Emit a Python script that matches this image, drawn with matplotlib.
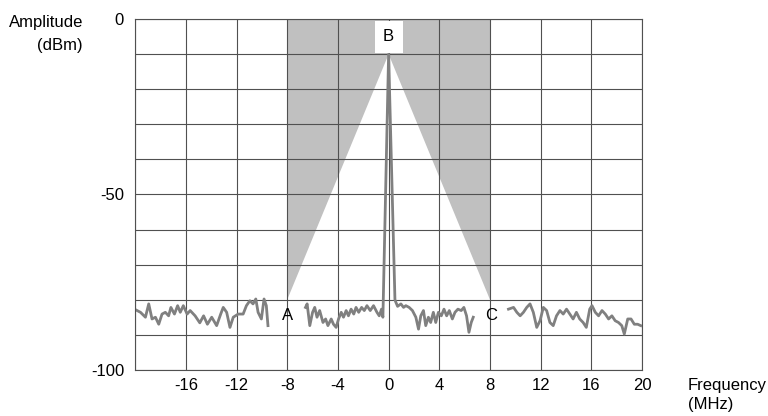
import matplotlib
matplotlib.use("Agg")
import matplotlib.pyplot as plt

plt.rcParams['font.family'] = ['Liberation Sans', 'DejaVu Sans']
plt.rcParams['axes.unicode_minus'] = False

# Left noise segment (MHz, dBm)
seg1_f = [-19.9, -19.58, -19.19, -18.93, -18.67, -18.4, -18.14, -17.88, -17.62, -17.36, -17.18,
          -16.9, -16.65, -16.44, -16.2, -15.9, -15.66, -15.27, -14.9, -14.6, -14.3, -13.96,
          -13.57, -13.25, -13.05, -12.78, -12.52, -12.26, -11.87, -11.48, -11.22, -10.95,
          -10.7, -10.48, -10.3, -10.04, -9.83, -9.65, -9.52]
seg1_a = [-83.0, -83.6, -85.0, -81.2, -85.5, -85.0, -87.0, -84.1, -83.6, -84.6, -82.2,
          -84.1, -81.7, -83.6, -81.7, -84.1, -83.1, -84.6, -86.6, -84.6, -87.0, -85.0,
          -87.4, -84.1, -82.2, -83.6, -87.9, -85.0, -84.1, -84.1, -81.7, -80.3,
          -81.2, -79.8, -83.6, -85.5, -79.8, -81.7, -87.4]

# Middle segment including the carrier peak
seg2_f = [-6.56, -6.43, -6.22, -6.0, -5.83, -5.65, -5.44, -5.18, -4.97, -4.79, -4.53, -4.35,
          -4.14, -3.95, -3.74, -3.56, -3.35, -3.17, -2.96, -2.75, -2.57, -2.36, -2.13, -1.92,
          -1.71, -1.45, -1.19, -0.92, -0.74, -0.56, -0.45, 0.0, 0.5, 0.58, 0.71, 0.97, 1.18,
          1.36, 1.62, 1.88, 2.15, 2.36, 2.54, 2.75, 2.93, 3.14, 3.32, 3.53, 3.72, 3.93, 4.16,
          4.37, 4.58, 4.79, 5.03, 5.24, 5.47, 5.73, 5.94, 6.15, 6.34, 6.52, 6.68]
seg2_a = [-82.2, -81.2, -87.4, -83.6, -82.2, -85.0, -83.1, -86.5, -85.5, -87.4, -85.5, -87.0,
          -87.9, -85.5, -83.6, -85.0, -83.1, -84.6, -82.7, -84.1, -82.2, -83.6, -82.2, -83.1,
          -81.7, -83.1, -81.7, -83.6, -84.6, -82.7, -85.0, -10.0, -80.0, -80.8, -81.9, -81.2, -82.2,
          -81.7, -82.2, -83.1, -85.0, -88.4, -84.6, -83.1, -87.4, -85.0, -86.5, -83.6, -86.5, -83.6, -84.6,
          -82.7, -84.6, -83.1, -85.5, -83.6, -82.7, -83.1, -82.2, -84.6, -89.3, -86.5, -85.0]

# Right noise segment
seg3_f = [9.46, 9.86, 10.12, 10.38, 10.64, 10.9, 11.16, 11.42, 11.69, 11.95, 12.21, 12.47,
          12.73, 12.99, 13.25, 13.52, 13.78, 14.04, 14.3, 14.56, 14.82, 15.08, 15.35, 15.6,
          15.87, 16.05, 16.31, 16.57, 16.84, 17.1, 17.36, 17.62, 17.88, 18.14, 18.4, 18.6,
          18.87, 19.13, 19.39, 19.65, 19.9]
seg3_a = [-82.7, -82.2, -83.6, -84.6, -83.6, -82.2, -81.2, -83.6, -87.9, -86.0, -82.2, -83.1,
          -86.5, -87.4, -84.6, -83.1, -84.1, -82.7, -84.1, -85.5, -83.6, -85.5, -86.5, -87.9,
          -82.7, -81.7, -83.6, -84.6, -83.1, -84.1, -85.5, -84.6, -86.0, -86.5, -87.4, -89.8,
          -85.5, -85.5, -87.0, -87.0, -87.4]

# Mask region: shaded band minus the white triangle
mask_f = [-8, 8, 8, 0, -8]
mask_a = [0, 0, -80, -10, -80]

xticks = list(range(-20, 21, 4))
xtick_labels = ['' if t == -20 else str(t) for t in xticks]
yticks = list(range(-100, 1, 10))
ytick_labels = [str(t) if t in (0, -50, -100) else '' for t in yticks]

fig = plt.figure(figsize=(7.68, 4.16), dpi=100)
ax = fig.add_axes([0.176, 0.111, 0.660, 0.843])

ax.fill(mask_f, mask_a, color='#c0c0c0', lw=0, zorder=1)

ax.set_xlim(-20, 20)
ax.set_ylim(-100, 0)
ax.set_xticks(xticks)
ax.set_xticklabels(xtick_labels)
ax.set_yticks(yticks)
ax.set_yticklabels(ytick_labels)
ax.tick_params(length=0, labelsize=12, colors='black')
ax.tick_params(axis='y', pad=8)
ax.tick_params(axis='x', pad=6)
ax.grid(True, color='#505050', lw=0.8, zorder=2)
ax.set_axisbelow(False)
for s in ax.spines.values():
    s.set_color('#505050')
    s.set_linewidth(0.8)
    s.set_zorder(6)

for f, a in ((seg1_f, seg1_a), (seg2_f, seg2_a), (seg3_f, seg3_a)):
    ax.plot(f, a, color='#808080', lw=2.0, zorder=3, solid_joinstyle='round')

ax.text(-8, -84.5, 'A', fontsize=12, ha='center', va='center', zorder=4)
ax.text(8.1, -84.5, 'C', fontsize=12, ha='center', va='center', zorder=4)
ax.text(0, -5.0, 'B', fontsize=12, ha='center', va='center', zorder=5,
        bbox=dict(boxstyle='square,pad=0.5', fc='white', ec='none'))

fig.text(83 / 768, 1 - 34 / 416, 'Amplitude\n(dBm)', fontsize=12, ha='right', va='center',
         multialignment='right', linespacing=1.6)
fig.text(688 / 768, 1 - 395 / 416, 'Frequency\n(MHz)', fontsize=12, ha='left', va='center',
         multialignment='left', linespacing=1.3)

fig.savefig('out.png', dpi=100)
